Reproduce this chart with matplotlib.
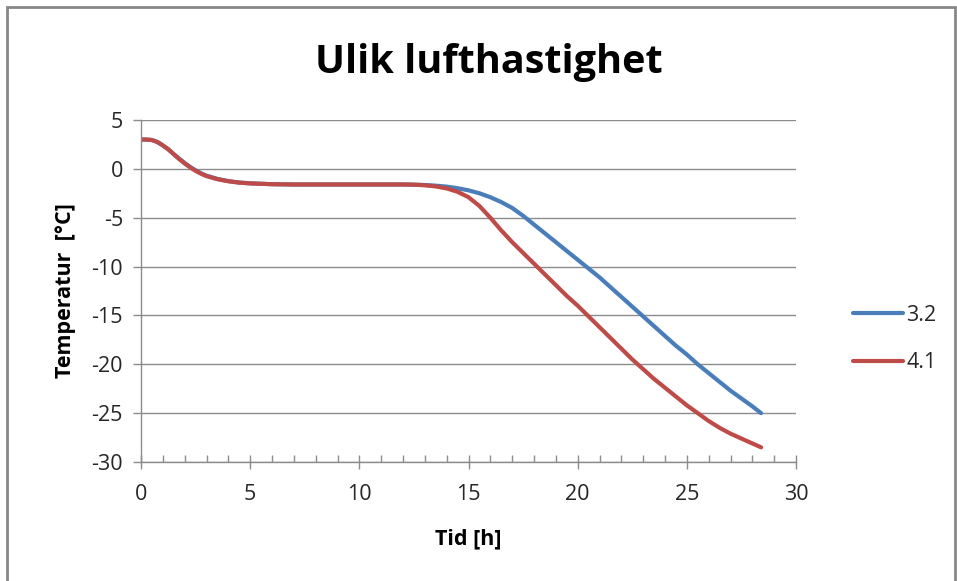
import matplotlib
matplotlib.use("Agg")
import matplotlib.pyplot as plt
from matplotlib.patches import Rectangle
from matplotlib.ticker import MultipleLocator

plt.rcParams['font.family'] = ['Open Sans', 'DejaVu Sans']
plt.rcParams['axes.unicode_minus'] = False

title = "Ulik lufthastighet"
xlabel = "Tid [h]"
ylabel = "Temperatur  [°C]"
series_names = ["3.2", "4.1"]

time_h = [0, 0.25, 0.5, 0.75, 1, 1.25, 1.5, 1.75, 2, 2.25, 2.5, 2.75, 3, 3.5, 4,
          4.5, 5, 6, 7, 8, 9, 10, 11, 12, 12.5,
          13, 13.5, 14, 14.5, 15, 15.5, 16, 16.5, 17, 17.5, 18, 18.5, 19, 19.5,
          20, 20.5, 21, 21.5, 22, 22.5, 23, 23.5, 24, 24.5, 25, 25.5, 26, 26.5,
          27, 27.5, 28, 28.4]

temp_32 = [3.0, 3.0, 2.95, 2.75, 2.4, 2.0, 1.5, 1.05, 0.6, 0.2, -0.15, -0.45,
           -0.7, -1.03, -1.25, -1.4, -1.48, -1.57,
           -1.6, -1.6, -1.6, -1.6, -1.6, -1.6, -1.62,
           -1.65, -1.72, -1.82, -1.98, -2.2, -2.5, -2.9, -3.4, -4.0, -4.8, -5.7,
           -6.6, -7.5, -8.4, -9.3, -10.2, -11.1, -12.1, -13.1, -14.1, -15.1,
           -16.1, -17.1, -18.1, -19.0, -20.0, -20.9, -21.8, -22.7, -23.5, -24.3,
           -25.0]

temp_41 = [3.0, 3.0, 2.95, 2.75, 2.4, 2.0, 1.5, 1.0, 0.55, 0.15, -0.2, -0.5,
           -0.74, -1.06, -1.27, -1.41, -1.49, -1.57,
           -1.6, -1.6, -1.6, -1.6, -1.6, -1.6, -1.62,
           -1.68, -1.8, -2.0, -2.35, -2.9, -3.8, -5.0, -6.3, -7.5, -8.6, -9.7,
           -10.8, -11.9, -13.0, -14.0, -15.1, -16.2, -17.3, -18.4, -19.5, -20.5,
           -21.5, -22.4, -23.3, -24.2, -25.0, -25.8, -26.5, -27.1, -27.6, -28.1,
           -28.5]

colors = ["#4A7EBB", "#BE4B48"]

W, H = 957, 581
fig = plt.figure(figsize=(W / 100, H / 100), dpi=100)
ax = fig.add_axes([141 / W, 1 - 462 / H, (796 - 141) / W, (462 - 120) / H])

for y, c, name in zip([temp_32, temp_41], colors, series_names):
    ax.plot(time_h, y, color=c, lw=3.0, solid_capstyle='round',
            solid_joinstyle='round', label=name)

ax.set_xlim(0, 30)
ax.set_ylim(-30, 5)
ax.xaxis.set_major_locator(MultipleLocator(5))
ax.xaxis.set_minor_locator(MultipleLocator(1))
ax.yaxis.set_major_locator(MultipleLocator(5))

ax.grid(axis='y', color='#8C8C8C', lw=1.0)
ax.set_axisbelow(True)
for s in ['top', 'right']:
    ax.spines[s].set_visible(False)
for s in ['left', 'bottom']:
    ax.spines[s].set_color('#8C8C8C')
    ax.spines[s].set_linewidth(1.0)

ax.tick_params(axis='x', which='major', direction='inout', length=10, width=1,
               color='#8C8C8C', labelsize=15.5, pad=11, labelcolor='#262626')
ax.tick_params(axis='x', which='minor', direction='in', length=5, width=1,
               color='#8C8C8C')
ax.tick_params(axis='y', which='major', direction='out', length=6, width=1,
               color='#8C8C8C', labelsize=15.5, pad=7, labelcolor='#262626')

ax.set_xlabel(xlabel, fontsize=15.5, fontweight='bold', labelpad=17)
ax.set_ylabel(ylabel, fontsize=15.5, fontweight='bold', labelpad=11)

fig.text(489 / W, 1 - 62 / H, title, fontsize=28.5, fontweight='bold',
         ha='center', va='center')

leg = fig.legend(loc='center left', bbox_to_anchor=(834 / W, 1 - 339 / H),
                 frameon=False, fontsize=15.5, handlelength=2.3,
                 handletextpad=0.15, labelspacing=1.25)
for t in leg.get_texts():
    t.set_color('#262626')

fig.patches.append(Rectangle((7 / W, -0.05), (955 - 7) / W, 1.05 - 7 / H,
                             transform=fig.transFigure, fill=False,
                             edgecolor='#888888', lw=2.0))

fig.savefig("out.png", dpi=100)
